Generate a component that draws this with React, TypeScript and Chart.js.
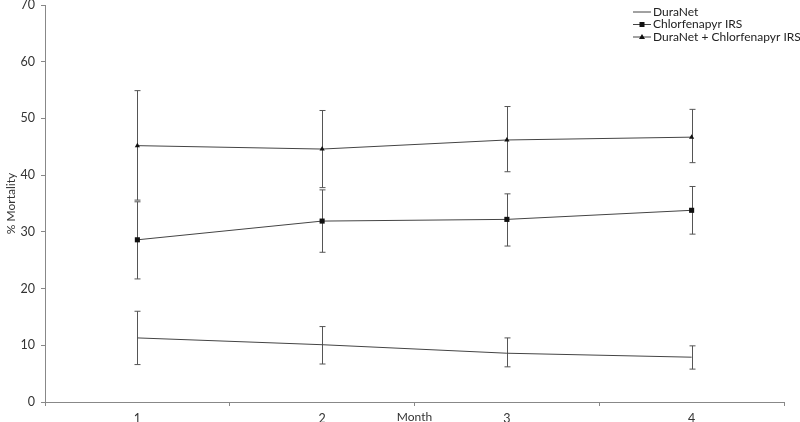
import React, { useEffect, useRef } from "react";
import { Chart, registerables } from "chart.js";

Chart.register(...registerables);

const months = ["1", "2", "3", "4"];
const seriesLabels = ["DuraNet", "Chlorfenapyr IRS", "DuraNet + Chlorfenapyr IRS"];
const duraNet = [11.3, 10.1, 8.6, 7.9];
const duraNetLow = [6.6, 6.7, 6.2, 5.8];
const duraNetHigh = [16.0, 13.3, 11.3, 9.9];
const chlorfenapyr = [28.6, 31.9, 32.2, 33.8];
const chlorfenapyrLow = [21.7, 26.4, 27.5, 29.6];
const chlorfenapyrHigh = [35.3, 37.4, 36.7, 38.0];
const combo = [45.2, 44.6, 46.2, 46.7];
const comboLow = [35.6, 37.8, 40.6, 42.2];
const comboHigh = [54.9, 51.4, 52.1, 51.6];
const yTitle = "% Mortality";
const xTitle = "Month";

const FONT = "Lato, 'Open Sans', sans-serif";
const lows = [duraNetLow, chlorfenapyrLow, comboLow];
const highs = [duraNetHigh, chlorfenapyrHigh, comboHigh];

const errorBarPlugin = {
  id: "errorBars",
  beforeDatasetsDraw(chart: any) {
    const ctx = chart.ctx;
    const xs = chart.scales.x;
    const ys = chart.scales.y;
    ctx.save();
    ctx.strokeStyle = "#555";
    ctx.lineWidth = 1;
    chart.data.datasets.forEach((ds: any, di: number) => {
      ds.data.forEach((_v: number, i: number) => {
        const x = Math.round(xs.getPixelForValue(i)) + 0.5;
        const yl = ys.getPixelForValue(lows[di][i]);
        const yh = ys.getPixelForValue(highs[di][i]);
        ctx.beginPath();
        ctx.moveTo(x, yl);
        ctx.lineTo(x, yh);
        ctx.moveTo(x - 3, yl);
        ctx.lineTo(x + 3, yl);
        ctx.moveTo(x - 3, yh);
        ctx.lineTo(x + 3, yh);
        ctx.stroke();
      });
    });
    ctx.restore();
  },
};

const extrasPlugin = {
  id: "extras",
  afterDraw(chart: any) {
    const ctx = chart.ctx;
    const area = chart.chartArea;
    ctx.save();
    // x axis title on the tick label row
    ctx.font = `12px ${FONT}`;
    ctx.fillStyle = "#333";
    ctx.textAlign = "center";
    ctx.textBaseline = "middle";
    ctx.fillText(xTitle, (area.left + area.right) / 2, 417.5);
    // legend
    chart.data.datasets.forEach((ds: any, i: number) => {
      const y = 12 + i * 12.5;
      ctx.strokeStyle = ds.borderColor;
      ctx.lineWidth = 1;
      ctx.beginPath();
      ctx.moveTo(633, y);
      ctx.lineTo(651, y);
      ctx.stroke();
      ctx.fillStyle = "#111";
      if (ds.pointStyle === "rect") {
        ctx.fillRect(639.5, y - 2.5, 5, 5);
      } else if (ds.pointStyle === "triangle") {
        ctx.beginPath();
        ctx.moveTo(642, y - 3);
        ctx.lineTo(645, y + 2);
        ctx.lineTo(639, y + 2);
        ctx.closePath();
        ctx.fill();
      }
      ctx.fillStyle = "#222";
      ctx.textAlign = "left";
      ctx.font = `12px ${FONT}`;
      ctx.fillText(ds.label, 653, y);
    });
    ctx.restore();
  },
};

export default function App() {
  const ref = useRef<HTMLCanvasElement>(null);
  useEffect(() => {
    document.body.style.margin = "0";
    const chart = new Chart(ref.current as HTMLCanvasElement, {
      type: "line",
      data: {
        labels: months,
        datasets: [
          {
            label: seriesLabels[0],
            data: duraNet,
            borderColor: "#444",
            backgroundColor: "#111",
            borderWidth: 1,
            pointRadius: 0,
            pointStyle: "line",
          },
          {
            label: seriesLabels[1],
            data: chlorfenapyr,
            borderColor: "#444",
            backgroundColor: "#111",
            borderWidth: 1,
            pointRadius: 3.6,
            pointBorderWidth: 0,
            pointStyle: "rect",
          },
          {
            label: seriesLabels[2],
            data: combo,
            borderColor: "#444",
            backgroundColor: "#111",
            borderWidth: 1,
            pointRadius: 3,
            pointBorderWidth: 0,
            pointStyle: "triangle",
          },
        ],
      },
      plugins: [errorBarPlugin, extrasPlugin],
      options: {
        animation: false,
        responsive: false,
        layout: { padding: { left: 0, right: 16, top: 5, bottom: 0 } },
        plugins: { legend: { display: false }, tooltip: { enabled: false } },
        scales: {
          x: {
            type: "category",
            offset: true,
            grid: {
              offset: true,
              drawOnChartArea: false,
              drawTicks: true,
              tickLength: 4,
              color: "#888",
            },
            border: { display: true, color: "#888" },
            ticks: { color: "#333", font: { size: 12.5, family: FONT }, padding: 5, maxRotation: 0 },
            afterFit: (s: any) => {
              s.height = 20;
              s.paddingLeft = 0;
              s.paddingRight = 0;
            },
          },
          y: {
            min: 0,
            max: 70,
            ticks: { stepSize: 10, color: "#333", font: { size: 12.5, family: FONT }, padding: 6 },
            grid: {
              drawOnChartArea: false,
              drawTicks: true,
              tickLength: 4,
              color: "#888",
            },
            border: { display: true, color: "#888" },
            title: {
              display: true,
              text: yTitle,
              color: "#333",
              font: { size: 12, family: FONT },
              padding: { top: 4, bottom: 0 },
            },
            afterFit: (s: any) => {
              s.width = 45;
              s.paddingTop = 0;
              s.paddingBottom = 0;
            },
          },
        },
      },
    });
    return () => chart.destroy();
  }, []);
  return (
    <div style={{ width: 800, height: 422, background: "#fff" }}>
      <canvas ref={ref} width={800} height={422} />
    </div>
  );
}
